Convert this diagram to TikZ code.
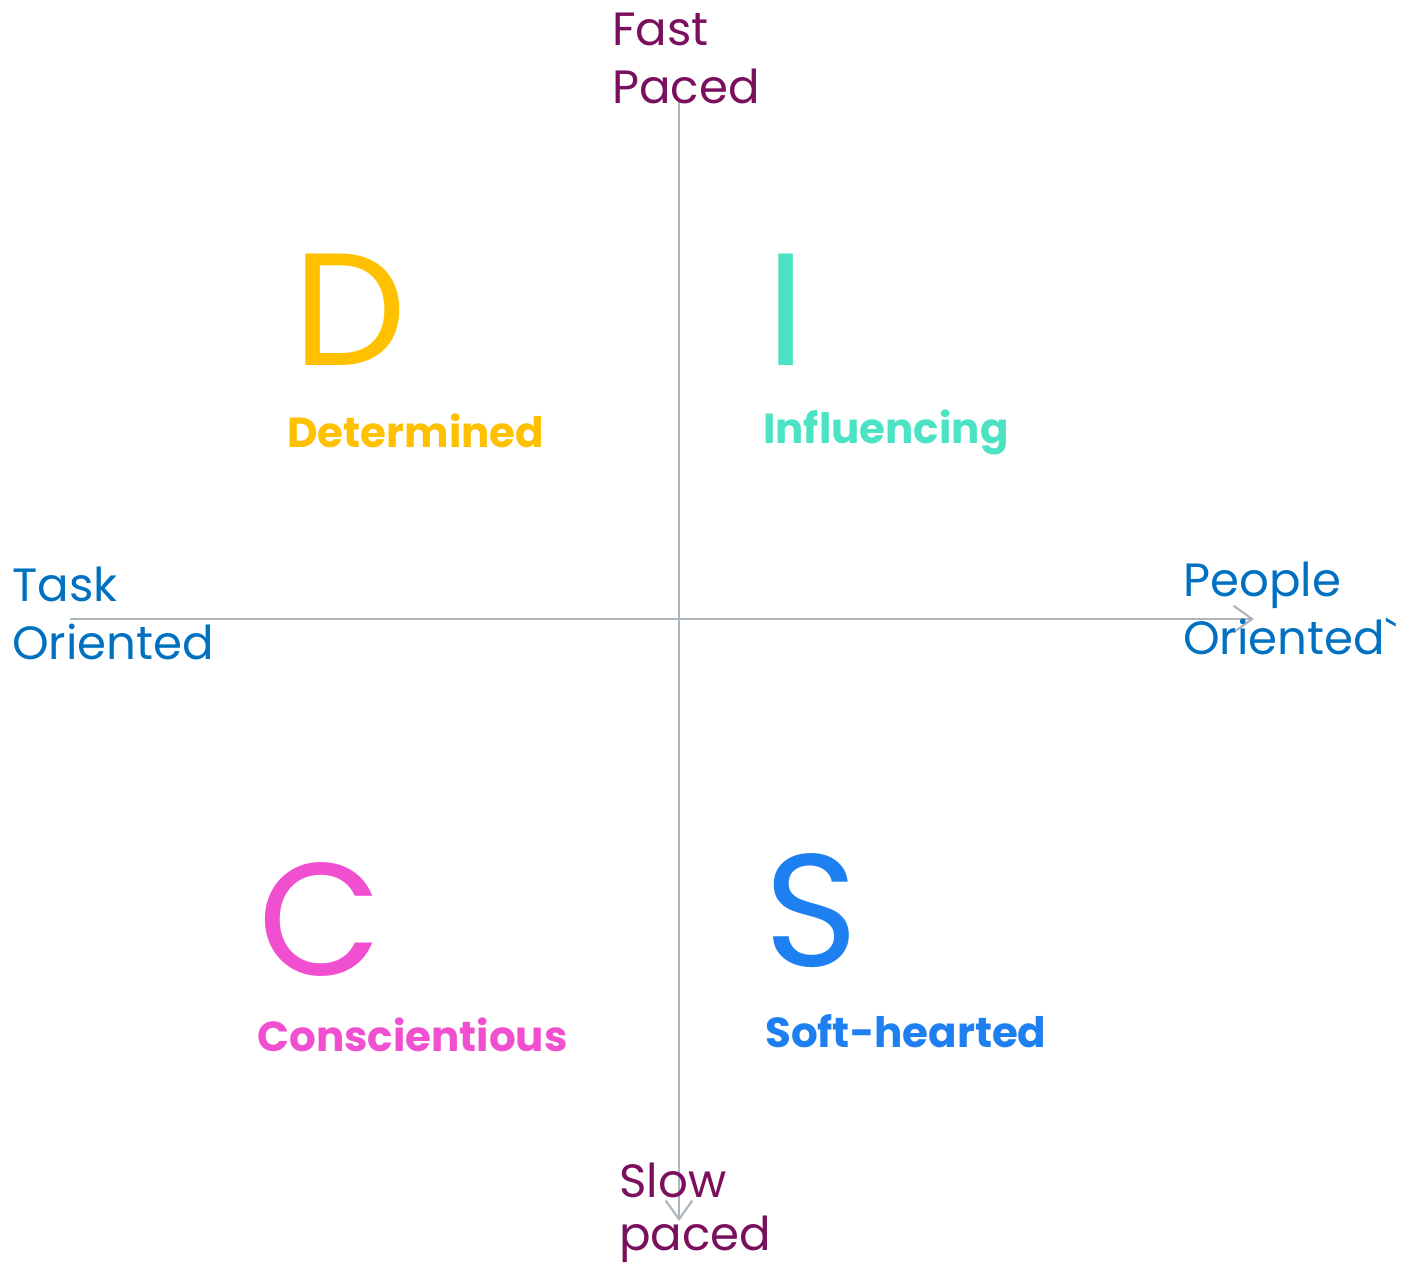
\documentclass[tikz,border=0pt]{standalone}
\usepackage{fontspec}
\setmainfont{Poppins}
\newfontfamily\rawpop{Poppins}
\usetikzlibrary{arrows.meta}
\definecolor{axisgray}{HTML}{ADB5BD}
\definecolor{pacepurple}{HTML}{7A0F5E}
\definecolor{orientblue}{HTML}{0070C0}
\definecolor{dcol}{HTML}{FFC000}
\definecolor{icol}{HTML}{4BE3C4}
\definecolor{ccol}{HTML}{F04FD0}
\definecolor{scol}{HTML}{1E7FF0}
\tikzset{
  axis/.style={draw=axisgray, line width=1.6pt, -{Straight Barb[length=14pt,width=20pt,line width=1.6pt]}},
  lbl/.style={anchor=base west, inner sep=0pt, font=\fontsize{35}{42}\selectfont},
  big/.style={anchor=base west, inner sep=0pt, font=\fontsize{120}{130}\fontseries{l}\selectfont},
  word/.style={anchor=base west, inner sep=0pt, font=\fontsize{31.5}{38}\selectfont\bfseries},
}
\begin{document}
\begin{tikzpicture}[x=0.75pt, y=-0.75pt]
\useasboundingbox (0,0) rectangle (1402,1268);
% axes
\coordinate (hstart) at (70,619);
\coordinate (hend) at (1254,619);
\coordinate (vstart) at (679,100);
\coordinate (vend) at (679,1221);
\draw[axis] (hstart) -- (hend);
\draw[axis] (vstart) -- (vend);
% axis labels
\node[lbl, text=pacepurple] (fast1) at (612,45) {Fast};
\node[lbl, text=pacepurple] (fast2) at (612,103) {Paced};
\node[lbl, text=pacepurple] (slow1) at (619,1197) {Slow};
\node[lbl, text=pacepurple] (slow2) at (619,1250) {paced};
\node[lbl, text=orientblue] (task1) at (12,601) {Task};
\node[lbl, text=orientblue] (task2) at (12,659) {Oriented};
\node[lbl, text=orientblue] (people1) at (1183,596) {People};
\node[lbl, text=orientblue] (people2) at (1183,654) {Oriented{\rawpop`}};
% quadrants
\node[big, text=dcol] (D) at (293,365) {D};
\node[word, text=dcol] (Dw) at (287,447) {Determined};
\node[big, text=icol] (I) at (766,365) {I};
\node[word, text=icol] (Iw) at (763,443) {Influencing};
\node[big, text=ccol] (C) at (258,975) {C};
\node[word, text=ccol] (Cw) at (257,1051) {Conscientious};
\node[big, text=scol] (S) at (764,966) {S};
\node[word, text=scol] (Sw) at (765,1047) {Soft-hearted};
\end{tikzpicture}
\end{document}
